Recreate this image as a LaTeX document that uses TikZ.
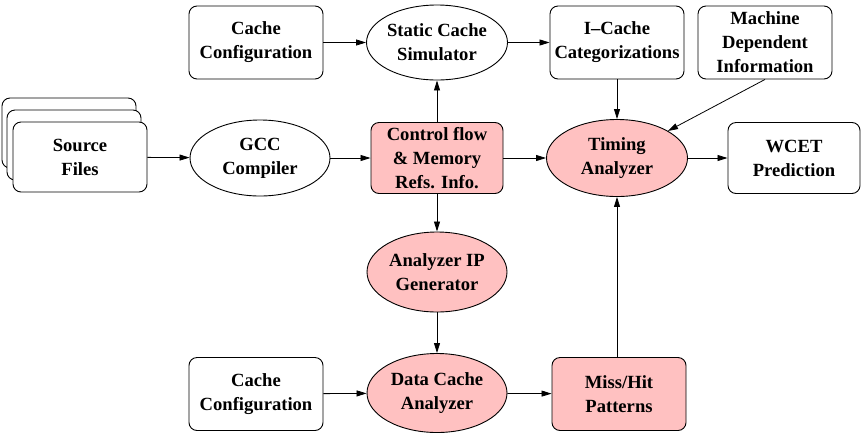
\documentclass[tikz,border=0pt]{standalone}
\usepackage{fontspec}
\setmainfont{Liberation Serif}
\usetikzlibrary{
  positioning,
  arrows.meta,
  shapes.geometric
}
\definecolor{wcPink}{HTML}{FFC1C1}

\begin{document}
\begin{tikzpicture}[x=1pt, y=-1pt,
  every node/.style={font=\fontsize{18.6}{24}\selectfont\bfseries, align=center, inner sep=1pt},
  box/.style={
    rectangle, rounded corners=8pt,
    draw, line width=0.9pt, fill=white,
    minimum width=134pt, minimum height=73pt
  },
  oval/.style={
    ellipse, draw, line width=0.9pt, fill=white,
    minimum width=140pt, minimum height=76pt, inner sep=0pt
  },
  hot/.style={fill=wcPink},
  arrow/.style={-{Stealth[length=10pt, width=6pt, inset=0pt]}, line width=0.8pt}
]
 \useasboundingbox (0,0) rectangle (862,440);

 % Source files: a stack of three pages
 \node[box, minimum height=70pt] (src3) at (69,133) {};
 \node[box, minimum height=70pt] (src2) at (74,145) {};
 \node[box, minimum height=70pt] (src1) at (80,157) {Source\\Files};

 % Main row
 \node[oval] (gcc) at (260,158) {GCC\\Compiler};
 \node[box, hot, minimum width=132pt, minimum height=71pt] (cfg) at (437,158)
  {Control flow\\\& Memory\\Refs. Info.};
 \node[oval, hot, minimum width=141pt, minimum height=77pt] (tim) at (617,158)
  {Timing\\Analyzer};
 \node[box, minimum width=132pt, minimum height=71pt] (wcet) at (794,158)
  {WCET\\Prediction};

 \draw[arrow] (src1) -- (gcc);
 \draw[arrow] (gcc) -- (cfg);
 \draw[arrow] (cfg) -- (tim);
 \draw[arrow] (tim) -- (wcet);

 % Top row: instruction cache path
 \node[box] (conf1) at (256,42.5) {Cache\\Configuration};
 \node[oval, minimum height=75pt] (scs) at (437,42.5) {Static Cache\\Simulator};
 \node[box] (icat) at (617,42.5) {I--Cache\\Categorizations};
 \node[box] (mdi) at (765,42.5) {Machine\\Dependent\\Information};

 \draw[arrow] (conf1) -- (scs);
 \draw[arrow] (cfg) -- (scs);
 \draw[arrow] (scs) -- (icat);
 \draw[arrow] (icat) -- (tim);
 \draw[arrow] (mdi.south) -- (tim);

 % Bottom rows: data cache path
 \node[oval, hot, minimum height=80pt] (aip) at (437,272) {Analyzer IP\\Generator};
 \node[box] (conf2) at (256,394) {Cache\\Configuration};
 \node[oval, hot, minimum height=79pt] (dca) at (437,393) {Data Cache\\Analyzer};
 \node[box, hot] (mhp) at (619,394) {Miss/Hit\\Patterns};

 \draw[arrow] (cfg) -- (aip);
 \draw[arrow] (aip) -- (dca);
 \draw[arrow] (conf2) -- (dca);
 \draw[arrow] (dca) -- (mhp);
 \draw[arrow] (mhp.north -| tim.south) -- (tim);
\end{tikzpicture}
\end{document}
